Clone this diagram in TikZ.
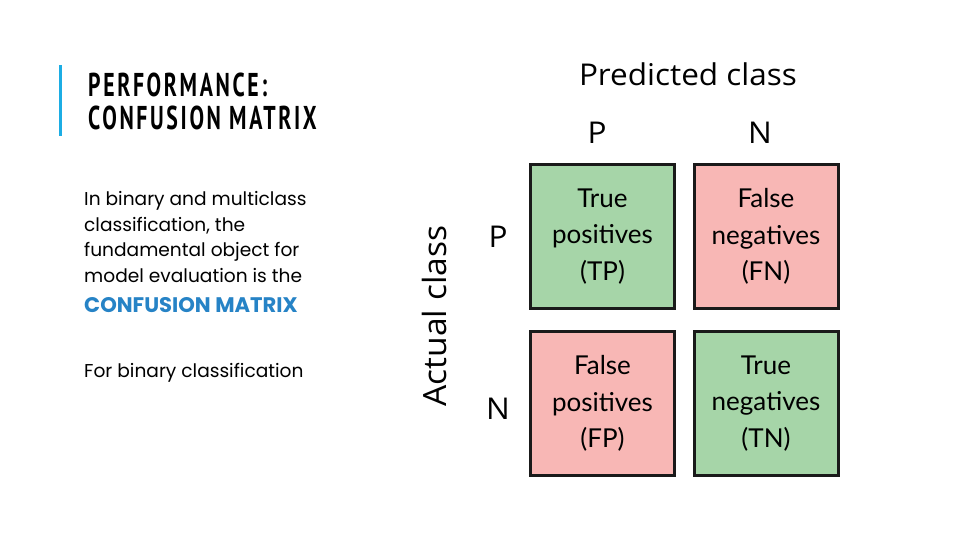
\documentclass[tikz,border=0pt]{standalone}
\usepackage{fontspec}
\setmainfont{Open Sans}
\newfontfamily\titlefont[FakeStretch=0.66,LetterSpace=8,BoldFont={PT Sans Bold}]{PT Sans}
\newfontfamily\bodyfont{Poppins}
\newfontfamily\gillfont[FakeStretch=1.05]{Open Sans}
\newfontfamily\cellfont{Lato}
\definecolor{accent}{HTML}{1CADE4}
\definecolor{bluetxt}{HTML}{2683C6}
\definecolor{goodfill}{HTML}{A6D5A8}
\definecolor{badfill}{HTML}{F8B7B5}
\definecolor{edge}{HTML}{1A1A1A}
\tikzset{
  cell/.style={draw=edge, line width=3pt, minimum width=144pt, minimum height=144pt, inner sep=0pt, align=center, font=\cellfont\fontsize{26}{36.5}\selectfont},
  good/.style={cell, fill=goodfill},
  bad/.style={cell, fill=badfill},
  axislab/.style={font=\gillfont\fontsize{30}{36}\selectfont},
  bodytxt/.style={anchor=base west, inner sep=0pt, font=\bodyfont\fontsize{18.6}{20}\selectfont},
  titletxt/.style={anchor=base west, inner sep=0pt, font=\titlefont\bfseries\fontsize{33}{36}\selectfont}
}
\begin{document}
\begin{tikzpicture}[x=1pt,y=-1pt]
\useasboundingbox (0,0) rectangle (960,540);
\fill[white] (0,0) rectangle (960,540);
% accent bar
\fill[accent] (59,65) rectangle (62,136);
% title
\node[titletxt] (t1) at (88,97) {PERFORMANCE:};
\node[titletxt] (t2) at (88,130) {CONFUSION MATRIX};
% body
\node[bodytxt] (b1) at (84,205) {In binary and multiclass};
\node[bodytxt] (b2) at (84,231) {classification, the};
\node[bodytxt] (b3) at (84,256) {fundamental object for};
\node[bodytxt] (b4) at (84,282) {model evaluation is the};
\node[bodytxt, text=bluetxt, font=\bodyfont\bfseries\fontsize{21.1}{22}\selectfont] (b5) at (84,312) {CONFUSION MATRIX};
\node[bodytxt] (b6) at (84,377) {For binary classification};
% matrix
\node[good] (tp) at (602.5,236.5) {True\\positives\\(TP)};
\node[bad]  (fn) at (766,236.5) {False\\negatives\\(FN)};
\node[bad]  (fp) at (602.5,403.5) {False\\positives\\(FP)};
\node[good] (tn) at (766,403.5) {True\\negatives\\(TN)};
% axis labels
\node[axislab] (pc) at (688,74) {Predicted class};
\node[axislab] (pp) at (597,133) {P};
\node[axislab] (pn) at (760,133) {N};
\node[axislab, rotate=90, font=\gillfont\fontsize{32}{36}\selectfont] (ac) at (434,316) {Actual class};
\node[axislab] (ap) at (498,237) {P};
\node[axislab] (an) at (498,409) {N};
\end{tikzpicture}
\end{document}
